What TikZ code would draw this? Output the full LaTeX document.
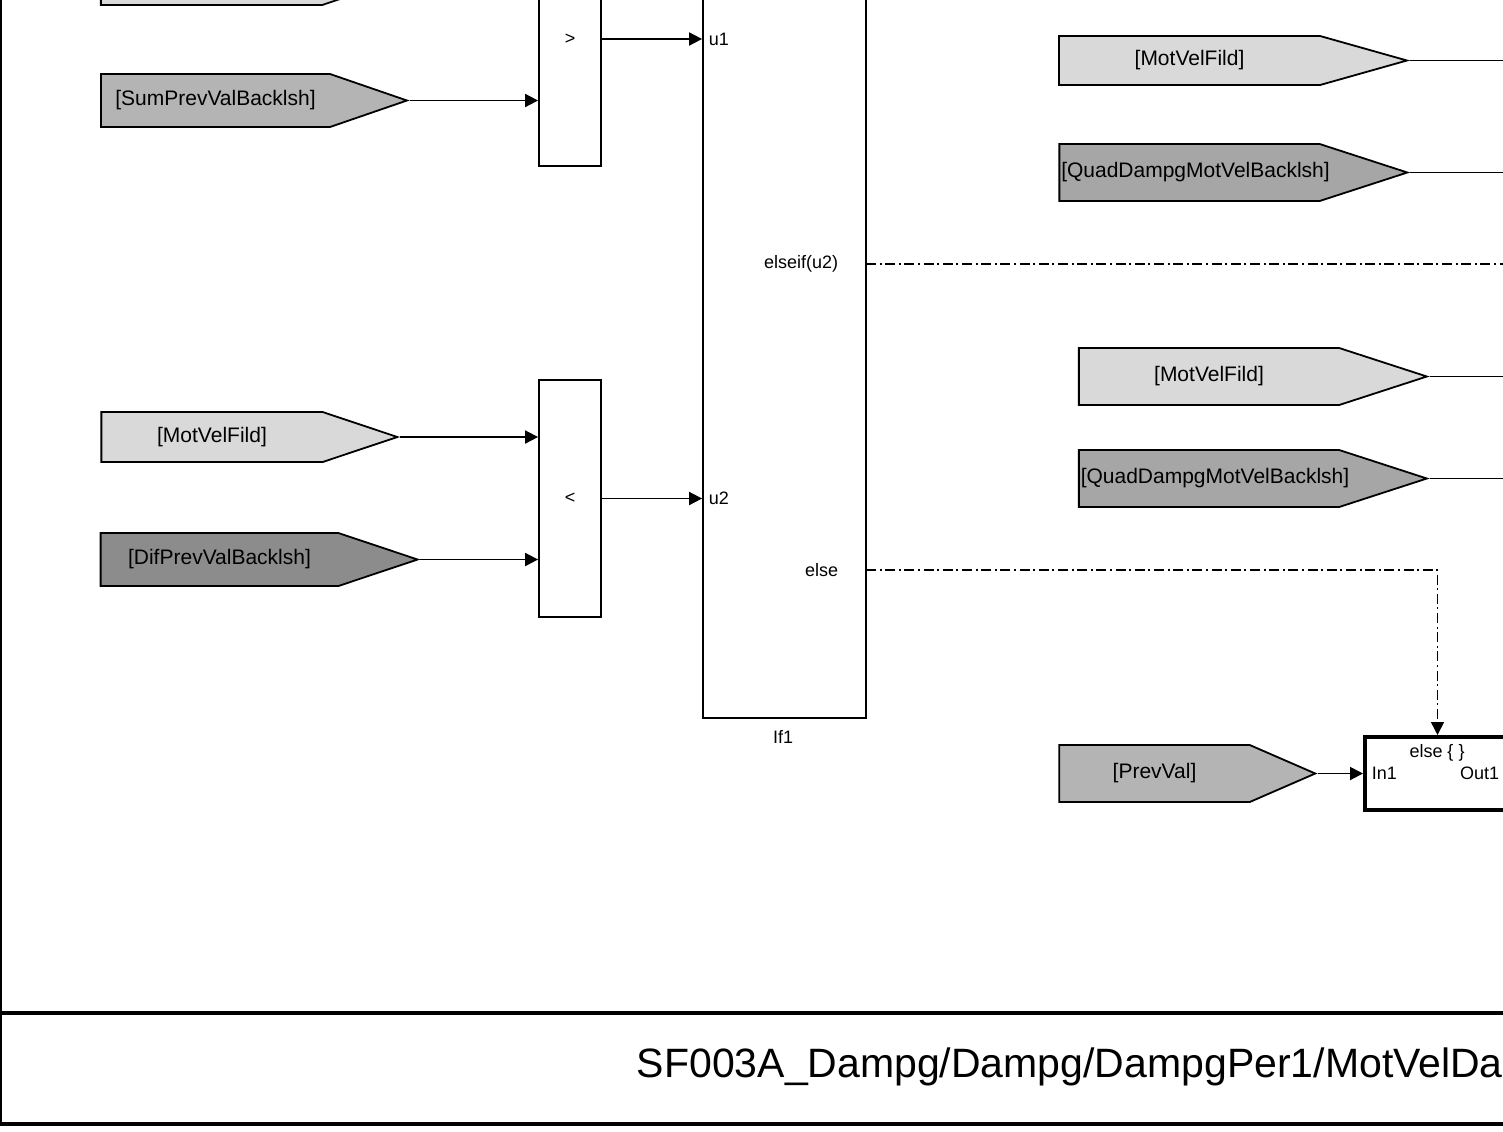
\documentclass[tikz,border=0pt]{standalone}
\usepackage{fontspec}
\setmainfont{Liberation Sans}
\usetikzlibrary{arrows.meta,shapes.symbols}

\begin{document}
\begin{tikzpicture}[
        x=0.5pt, y=-0.5pt,
        >={Triangle[length=6.5pt,width=6.5pt]},
        line width=0.9pt
    ]
    \tikzset{
        gototag/.style = {signal, signal to=east, signal from=nowhere, draw=black, line width=0.9pt, inner sep=0pt, font=\fontsize{10.5}{12}\selectfont},
        relblock/.style = {rectangle, draw=black, line width=0.9pt, minimum width=31pt, font=\fontsize{9}{10}\selectfont},
        ifblock/.style = {rectangle, draw=black, line width=0.9pt, minimum width=81.5pt},
        portlabel/.style = {inner sep=0pt, font=\fontsize{9}{10}\selectfont},
        actionline/.style = {line width=0.8pt, dash pattern=on 5pt off 1.8pt on 1pt off 1.8pt},
    }
    \definecolor{taglight}{HTML}{D9D9D9}
    \definecolor{tagmid}{HTML}{B4B4B4}
    \definecolor{tagquad}{HTML}{A6A6A6}
    \definecolor{tagdark}{HTML}{8C8C8C}
    \useasboundingbox (0,0) rectangle (1503,1131);

    % frame
    \draw[line width=1pt] (1,-5) -- (1,1124);
    \draw[line width=1.8pt] (0,1013) -- (1510,1013);
    \draw[line width=1.6pt] (0,1124) -- (1510,1124);
    \node[anchor=west, inner sep=0pt, font=\fontsize{20.5}{24}\selectfont] (title) at (636,1067) {SF003A\_Dampg/Dampg/DampgPer1/MotVelDa};

    % left tags
    \node[gototag, fill=taglight, minimum width=148pt, minimum height=25pt, signal pointer angle=37] (topTag) at (211.5,-20) {};
    \node[gototag, fill=tagmid, minimum width=153pt, minimum height=26.5pt, signal pointer angle=38] (sumPrev) at (215.5,100.5) {[SumPrevValBacklsh]};
    \node[gototag, fill=taglight, minimum width=148pt, minimum height=25pt, signal pointer angle=37] (motVelL) at (212,437) {[MotVelFild]};
    \node[gototag, fill=tagdark, minimum width=158.5pt, minimum height=26.5pt, signal pointer angle=37] (difPrev) at (219.5,559.5) {[DifPrevValBacklsh]};

    % relational operators
    \node[relblock, minimum height=127pt] (gt) at (570,39) {>};
    \node[relblock, minimum height=118.5pt] (lt) at (570,498.5) {<};

    % if block
    \node[ifblock, minimum height=409pt] (if1) at (784.5,309) {};
    \node[portlabel] (if1name) at (783,737) {If1};
    \node[portlabel, anchor=west] (u1) at (708,39) {u1};
    \node[portlabel, anchor=west] (u2) at (708,498) {u2};
    \node[portlabel, anchor=east] (elseiflabel) at (839,264) {elseif(u2)};
    \node[portlabel, anchor=east] (elselabel) at (839,570) {else};
    \coordinate (elseifport) at (866,264);
    \coordinate (elseport) at (866,570);

    % right tags
    \node[gototag, fill=taglight, minimum width=174pt, minimum height=24.5pt, signal pointer angle=31.5] (motVelR1) at (1189.5,60.5) {[MotVelFild]};
    \node[gototag, fill=tagquad, minimum width=174pt, minimum height=28.5pt, signal pointer angle=36] (quadR1) at (1189.5,172.5) {\makebox[0pt]{\hspace{6pt}[QuadDampgMotVelBacklsh]}};
    \node[gototag, fill=taglight, minimum width=174pt, minimum height=28.5pt, signal pointer angle=36] (motVelR2) at (1209,376.5) {[MotVelFild]};
    \node[gototag, fill=tagquad, minimum width=174pt, minimum height=28.5pt, signal pointer angle=36] (quadR2) at (1209,478.5) {\makebox[0pt]{\hspace{6pt}[QuadDampgMotVelBacklsh]}};
    \node[gototag, fill=tagmid, minimum width=128pt, minimum height=28.5pt, signal pointer angle=47] (prevVal) at (1154.5,773.5) {[PrevVal]};

    % else action subsystem
    \node[rectangle, draw=black, line width=2pt, minimum width=72.5pt, minimum height=36.5pt] (elseblk) at (1437.5,773.5) {};
    \node[portlabel] (elsetitle) at (1437,753) {else \{ \}};
    \node[portlabel, anchor=west] (in1) at (1371,773) {In1};
    \node[portlabel, anchor=east] (out1) at (1500,773) {Out1};
    \coordinate (rightedge) at (1510,0);

    % signals
    \draw[->] (sumPrev.east) -- (sumPrev.east -| gt.west);
    \draw[->] (gt.east) -- (gt.east -| if1.west);
    \draw[->] (motVelL.east) -- (motVelL.east -| lt.west);
    \draw[->] (difPrev.east) -- (difPrev.east -| lt.west);
    \draw[->] (lt.east) -- (lt.east -| if1.west);
    \draw (motVelR1.east) -- (motVelR1.east -| rightedge);
    \draw (quadR1.east) -- (quadR1.east -| rightedge);
    \draw (motVelR2.east) -- (motVelR2.east -| rightedge);
    \draw (quadR2.east) -- (quadR2.east -| rightedge);
    \draw[->] (prevVal.east) -- (prevVal.east -| elseblk.west);
    \draw[actionline] (elseifport) -- (elseifport -| rightedge);
    \draw[actionline,->] (elseport) -| (elseblk.north);
\end{tikzpicture}
\end{document}
